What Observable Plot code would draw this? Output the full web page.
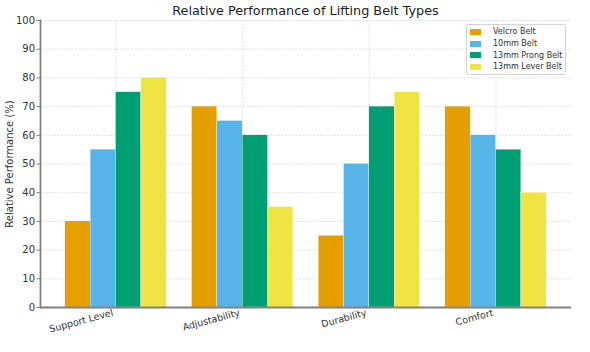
<!DOCTYPE html>
<html><head><meta charset="utf-8">
<script src="https://cdn.jsdelivr.net/npm/d3@7"></script>
<script src="https://cdn.jsdelivr.net/npm/@observablehq/plot@0.6"></script>
<style>
body{margin:0;background:#fff;font-family:"DejaVu Sans",sans-serif;}
#wrap{position:relative;width:590px;height:352px;overflow:hidden;background:#fff;}
#title{position:absolute;left:40px;width:531px;top:3px;text-align:center;font-size:12.8px;color:#222;z-index:5;}
.layer{position:absolute;top:8px;left:0;}
#legend{position:absolute;box-sizing:border-box;left:466px;top:24px;width:100px;border:1px solid #d4d4d4;border-radius:3px;background:rgba(255,255,255,0.9);padding:1px 0 1px 0;font-size:8px;color:#333;z-index:5;}
#legend .row{display:flex;align-items:center;height:11.7px;}
#legend .sw{width:11px;height:6px;margin:0 12px 0 3px;}
</style></head>
<body><div id="wrap"><div id="title">Relative Performance of Lifting Belt Types</div><div id="l1" class="layer"></div><div id="l2" class="layer"></div><div id="l3" class="layer"></div><div id="legend"></div></div>
<script>
const categories = ["Support Level","Adjustability","Durability","Comfort"];
const series = ["Velcro Belt","10mm Belt","13mm Prong Belt","13mm Lever Belt"];
const colors = ["#E69F00","#56B4E9","#009E73","#F0E442"];
const velcro = [30,70,25,70];
const belt10mm = [55,65,50,60];
const prong13mm = [75,60,70,55];
const lever13mm = [80,35,75,40];
const yTicks = [0,10,20,30,40,50,60,70,80,90,100];

const values = [velcro, belt10mm, prong13mm, lever13mm];
const data = [];
categories.forEach((c, i) => series.forEach((s, j) => data.push({category: c, series: s, value: values[j][i]})));

const base = {
  width:590, height:344,
  marginLeft:40, marginRight:19, marginTop:12, marginBottom:45,
  style:{fontFamily:"DejaVu Sans, sans-serif", fontSize:"10px", color:"#333", background:"transparent", overflow:"visible"},
  y:{domain:[0,100], label:null}
};
const band = {type:"band", domain:categories, paddingInner:0.2, paddingOuter:0.196, round:false, label:null};
const grid = {stroke:"#d6d6d6", strokeOpacity:1, strokeDasharray:"2,1.5", strokeWidth:0.8};

// Layer 1: grid lines
const g = Plot.plot({...base, x:{...band, axis:null}, y:{...base.y, axis:null},
  marks:[Plot.gridY(yTicks, grid), Plot.gridX(categories, grid)]});
document.getElementById("l1").appendChild(g);

// Layer 2: grouped bars (faceted by category)
const bars = Plot.plot({...base,
  fx:{...band, axis:null},
  x:{domain:series, padding:0, round:false, axis:null},
  y:{...base.y, axis:null},
  color:{domain:series, range:colors},
  marks:[Plot.barY(data, {fx:"category", x:"series", y:"value", fill:"series", stroke:"white", strokeWidth:0.3})]
});
document.getElementById("l2").appendChild(bars);

// Layer 3: axes
const ax = Plot.plot({...base, x:band,
  marks:[
    Plot.axisY({ticks:yTicks, tickSize:3.5, tickPadding:2, stroke:"#808080", label:"Relative Performance (%)", labelAnchor:"center", labelArrow:"none", labelOffset:35, fontSize:10}),
    Plot.axisX({tickSize:0, tickRotate:-15, tickPadding:5, dx:-3, label:null, fontSize:9.5}),
    Plot.ruleY([0], {stroke:"#808080", strokeWidth:1.8}),
    Plot.frame({anchor:"left", stroke:"#808080", strokeWidth:1.8})
  ]});
document.getElementById("l3").appendChild(ax);

const legend = document.getElementById("legend");
series.forEach((s, i) => {
  const row = document.createElement("div"); row.className = "row";
  const sw = document.createElement("div"); sw.className = "sw"; sw.style.background = colors[i];
  const t = document.createElement("span"); t.textContent = s;
  row.appendChild(sw); row.appendChild(t); legend.appendChild(row);
});
</script></body></html>
